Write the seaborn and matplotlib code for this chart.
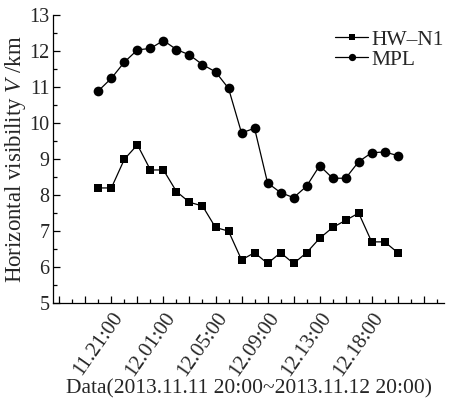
import numpy as np
import pandas as pd
import matplotlib
matplotlib.use("Agg")
import matplotlib.pyplot as plt
import seaborn as sns
from matplotlib.ticker import FixedLocator, MultipleLocator

# hourly samples, 2013.11.11 20:00 -> 2013.11.12
hw_n1 = [8.2, 8.2, 9.0, 9.4, 8.7, 8.7, 8.1, 7.8, 7.7, 7.1, 7.0, 6.2,
         6.4, 6.1, 6.4, 6.1, 6.4, 6.8, 7.1, 7.3, 7.5, 6.7, 6.7, 6.4]
mpl = [10.9, 11.25, 11.7, 12.04, 12.08, 12.3, 12.05, 11.9, 11.63, 11.43, 10.97, 9.73,
       9.86, 8.34, 8.07, 7.93, 8.25, 8.82, 8.47, 8.47, 8.93, 9.18, 9.2, 9.1]
tick_pos = [1, 5, 9, 13, 17, 21]
tick_labels = ["11.21:00", "12.01:00", "12.05:00", "12.09:00", "12.13:00", "12.18:00"]

sns.set_style("ticks")
plt.rcParams['font.family'] = ['Liberation Serif', 'DejaVu Serif']
plt.rcParams['mathtext.fontset'] = 'custom'
plt.rcParams['mathtext.it'] = 'Liberation Serif:italic'
plt.rcParams['mathtext.rm'] = 'Liberation Serif'

idx = np.arange(len(hw_n1))
df = pd.DataFrame({'t': idx, 'HW\u2013N1': hw_n1, 'MPL': mpl})

fig = plt.figure(figsize=(4.53, 4.04), dpi=100)
ax = fig.add_axes([0.118, 0.25, 0.862, 0.712])

sns.lineplot(data=df, x='t', y='HW\u2013N1', ax=ax, color='black', lw=0.9,
             marker='s', markersize=6, markeredgewidth=0, label='HW\u2013N1')
sns.lineplot(data=df, x='t', y='MPL', ax=ax, color='black', lw=0.9,
             marker='o', markersize=7, markeredgewidth=0, label='MPL')

ax.set_xlim(-3.45, 26.55)
ax.set_ylim(5, 13)
sns.despine(ax=ax)

ax.xaxis.set_major_locator(FixedLocator(list(range(-3, 27, 2))))
ax.xaxis.set_minor_locator(FixedLocator(list(range(-2, 27, 2))))
ax.set_xticklabels([tick_labels[tick_pos.index(p)] if p in tick_pos else ""
                    for p in range(-3, 27, 2)])
plt.setp(ax.get_xticklabels(), rotation=55, ha="right", rotation_mode="anchor")

ax.yaxis.set_major_locator(MultipleLocator(1))
ax.yaxis.set_minor_locator(MultipleLocator(0.5))

ax.tick_params(which='major', direction='in', length=5, width=0.9,
               labelsize=14.5, color='black', pad=3)
ax.tick_params(which='minor', direction='in', length=3, width=0.9, color='black')
ax.tick_params(axis='x', labelsize=15, pad=4)
for s in ['left', 'bottom']:
    ax.spines[s].set_linewidth(0.9)
    ax.spines[s].set_color('black')

ax.set_xlabel("Data(2013.11.11 20:00~2013.11.12 20:00)", fontsize=15.5, labelpad=0)
ax.set_ylabel("Horizontal visibility $V$ /km", fontsize=16.5, labelpad=1)

ax.legend(frameon=False, loc='upper right', bbox_to_anchor=(1.0, 0.95),
          fontsize=15.5, handlelength=1.55, handletextpad=0.15, labelspacing=0.0,
          borderpad=0, borderaxespad=0, markerscale=0.75)

fig.savefig("out.png", dpi=100)
